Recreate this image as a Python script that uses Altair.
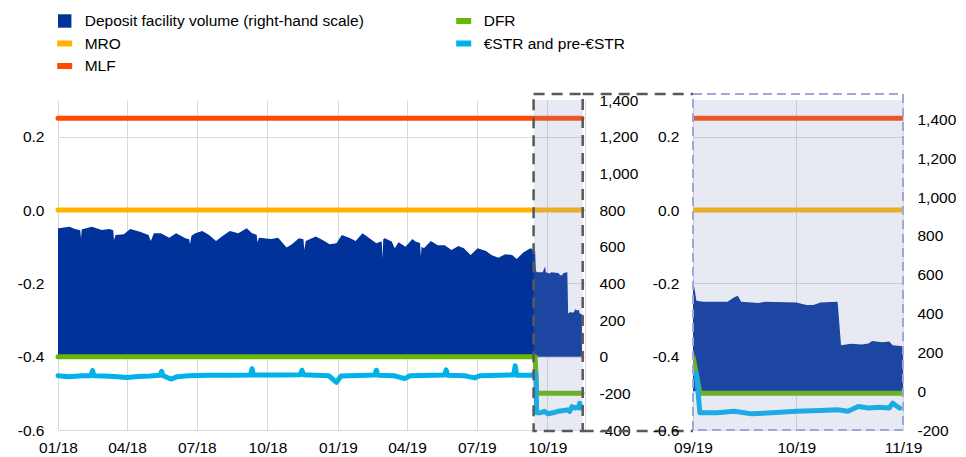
import altair as alt
import pandas as pd

FONT = "Liberation Sans"
GRID = "#d9d9d9"

# ---------------- data ----------------
vol_dates = [
    "2018-01-01", "2018-01-02", "2018-01-16", "2018-01-23", "2018-01-30", "2018-01-31", "2018-02-01",
    "2018-02-03", "2018-02-14", "2018-02-27", "2018-03-09", "2018-03-14", "2018-03-15", "2018-03-17",
    "2018-03-28", "2018-04-05", "2018-04-18", "2018-04-29", "2018-05-02", "2018-05-06", "2018-05-15",
    "2018-05-26", "2018-06-04", "2018-06-16", "2018-06-21", "2018-06-22", "2018-06-24", "2018-06-29",
    "2018-07-08", "2018-07-17", "2018-07-26", "2018-08-04", "2018-08-13", "2018-08-24", "2018-09-04",
    "2018-09-11", "2018-09-17", "2018-09-18", "2018-09-20", "2018-10-06", "2018-10-15", "2018-10-26",
    "2018-11-02", "2018-11-11", "2018-11-17", "2018-11-18", "2018-11-20", "2018-12-03", "2018-12-12",
    "2018-12-21", "2018-12-30", "2019-01-06", "2019-01-17", "2019-01-24", "2019-02-02", "2019-02-11",
    "2019-02-20", "2019-02-27", "2019-02-28", "2019-03-01", "2019-03-03", "2019-03-12", "2019-03-16",
    "2019-03-21", "2019-03-30", "2019-04-08", "2019-04-12", "2019-04-18", "2019-04-19", "2019-04-20",
    "2019-04-23", "2019-05-02", "2019-05-11", "2019-05-20", "2019-05-29", "2019-06-07", "2019-06-14",
    "2019-06-23", "2019-07-02", "2019-07-13", "2019-07-20", "2019-07-29", "2019-08-07", "2019-08-16",
    "2019-08-22", "2019-08-31", "2019-09-09", "2019-09-15", "2019-09-16", "2019-09-18", "2019-09-25",
    "2019-09-27", "2019-09-28", "2019-09-29", "2019-10-04", "2019-10-06", "2019-10-15", "2019-10-18",
    "2019-10-20", "2019-10-22", "2019-10-27", "2019-10-28", "2019-10-31", "2019-11-03", "2019-11-05",
    "2019-11-06", "2019-11-09", "2019-11-11", "2019-11-12", "2019-11-15",
]
vol_values = [
    700, 700, 709, 697, 690, 646, 695,
    697, 709, 691, 697, 690, 637, 664,
    668, 697, 682, 664, 631, 673, 673,
    649, 673, 646, 640, 613, 660, 673,
    686, 664, 631, 660, 686, 673, 700,
    673, 665, 624, 649, 642, 649, 595,
    613, 646, 640, 582, 631, 655, 637,
    613, 619, 664, 646, 631, 673, 646,
    619, 630, 537, 640, 646, 628, 591,
    624, 600, 642, 628, 620, 546, 600,
    591, 631, 608, 608, 582, 604, 591,
    555, 591, 577, 555, 540, 559, 555,
    533, 570, 591, 576, 466, 461, 461,
    484, 491, 461, 454, 461, 457, 444,
    444, 457, 461, 236, 244, 240, 245,
    259, 252, 256, 236, 232,
]

estr_dates = [
    "2018-01-01", "2018-01-15", "2018-02-01", "2018-02-13", "2018-02-15", "2018-02-17", "2018-03-01",
    "2018-03-15", "2018-04-01", "2018-04-15", "2018-05-01", "2018-05-14", "2018-05-16", "2018-05-18",
    "2018-05-28", "2018-06-05", "2018-06-20", "2018-07-15", "2018-08-15", "2018-09-09", "2018-09-11",
    "2018-09-13", "2018-10-15", "2018-11-13", "2018-11-15", "2018-11-17", "2018-12-20", "2018-12-30",
    "2019-01-05", "2019-02-18", "2019-02-20", "2019-02-22", "2019-03-15", "2019-03-29", "2019-04-05",
    "2019-05-20", "2019-05-22", "2019-05-24", "2019-06-15", "2019-06-28", "2019-07-05", "2019-08-18",
    "2019-08-20", "2019-08-22", "2019-09-10", "2019-09-16", "2019-09-17", "2019-09-22", "2019-09-27",
    "2019-10-02", "2019-10-08", "2019-10-15", "2019-10-22", "2019-10-27", "2019-10-30", "2019-11-02",
    "2019-11-05", "2019-11-08", "2019-11-11", "2019-11-12", "2019-11-14",
]
estr_values = [
    -0.452, -0.455, -0.452, -0.452, -0.438, -0.452, -0.453,
    -0.454, -0.457, -0.454, -0.453, -0.451, -0.440, -0.452,
    -0.461, -0.455, -0.452, -0.451, -0.451, -0.450, -0.433,
    -0.450, -0.450, -0.449, -0.437, -0.449, -0.452, -0.470,
    -0.453, -0.450, -0.437, -0.451, -0.452, -0.460, -0.452,
    -0.450, -0.436, -0.451, -0.452, -0.458, -0.452, -0.450,
    -0.425, -0.451, -0.451, -0.446, -0.553, -0.553, -0.549,
    -0.556, -0.553, -0.549, -0.547, -0.545, -0.549, -0.536,
    -0.540, -0.538, -0.540, -0.527, -0.540,
]

dfr_dates = ["2018-01-01", "2019-09-15", "2019-09-17", "2019-11-15"]
dfr_values = [-0.40, -0.40, -0.50, -0.50]
mro_dates = ["2018-01-01", "2019-11-15"]
mro_values = [0.00, 0.00]
mlf_dates = ["2018-01-01", "2019-11-15"]
mlf_values = [0.25, 0.25]

legend_labels = ["Deposit facility volume (right-hand scale)", "MRO", "MLF", "DFR", "€STR and pre-€STR"]
legend_colors = ["#003299", "#ffb400", "#ff4b00", "#65b800", "#00b1ea"]
legend_col = [0, 0, 0, 1, 1]
legend_row = [0, 1, 2, 0, 1]
legend_kind = ["square", "line", "line", "line", "line"]

rate_ticks = [-0.6, -0.4, -0.2, 0.0, 0.2]
left_vol_ticks = [-400, -200, 0, 200, 400, 600, 800, 1000, 1200, 1400]
right_vol_ticks = [-200, 0, 200, 400, 600, 800, 1000, 1200, 1400]

# ---------------- tables ----------------
vol_df = pd.DataFrame({"date": pd.to_datetime(vol_dates), "volume": vol_values})
series = [
    ("MLF", mlf_dates, mlf_values, "#ff4b00"),
    ("MRO", mro_dates, mro_values, "#ffb400"),
    ("DFR", dfr_dates, dfr_values, "#65b800"),
    ("ESTR", estr_dates, estr_values, "#00b1ea"),
]
leg_df = pd.DataFrame({"label": legend_labels, "color": legend_colors, "col": legend_col,
                       "row": legend_row, "kind": legend_kind})

def D(y, m, d):
    return alt.DateTime(year=y, month=m, date=d)

RATE_LABEL = "(datum.value < -1e-9 ? '-' : '') + format(abs(datum.value), '.1f')"
VOL_LABEL = "(datum.value < 0 ? '-' : '') + format(abs(datum.value), ',')"


def x_enc(field, dom, vals):
    return alt.X(f"{field}:T", scale=alt.Scale(domain=dom),
                 axis=alt.Axis(values=vals, format="%m/%y", title=None, grid=True, gridColor=GRID,
                               gridWidth=1, domain=False, ticks=False, labelPadding=10,
                               labelFlush=False, labelOverlap=False, labelBound=False))


def rate_y():
    return alt.Y("value:Q", scale=alt.Scale(domain=[-0.6, 0.3], nice=False, zero=False),
                 axis=alt.Axis(orient="left", values=rate_ticks, labelExpr=RATE_LABEL, title=None,
                               grid=True, gridColor=GRID, domain=False, ticks=False, labelPadding=14))


def vol_y(dom, vals, show_domain):
    return alt.Y("volume:Q", scale=alt.Scale(domain=dom, nice=False, zero=False),
                 axis=alt.Axis(orient="right", values=vals, labelExpr=VOL_LABEL, title=None,
                               grid=False, domain=show_domain, domainColor=GRID, ticks=False,
                               labelPadding=14))


def panel(dom, xvals, vdom, vvals, show_domain, clip, decor):
    area = alt.Chart(vol_df).mark_area(color="#003299", clip=clip).encode(
        x=x_enc("date", dom, xvals), y=vol_y(vdom, vvals, show_domain))
    lines = []
    for name, ds, vs, col in series:
        df = pd.DataFrame({"date": pd.to_datetime(ds), "value": vs})
        lines.append(alt.Chart(df).mark_line(color=col, strokeWidth=5, strokeCap="round",
                                             strokeJoin="round", clip=clip).encode(
            x=x_enc("date", dom, xvals), y=rate_y()))
    inner = alt.layer(*lines, *decor(dom, xvals))
    return alt.layer(area, inner).resolve_scale(y="independent")


W_L, W_R, H, GAP = 527, 210, 330, 108


def left_decor(dom, xvals):
    box_df = pd.DataFrame({"start": pd.to_datetime(["2019-09-13"]), "end": pd.to_datetime(["2019-11-16"])})
    shade = alt.Chart(box_df).mark_rect(fill="#8c96c3", opacity=0.2).encode(
        x=x_enc("start", dom, xvals), x2="end:T", y=alt.value(0), y2=alt.value(H))
    box = alt.Chart(box_df).mark_rect(fill="transparent", stroke="#595959", strokeWidth=2.5,
                                      strokeDash=[11, 7]).encode(
        x=x_enc("start", dom, xvals), x2="end:T", y=alt.value(-6), y2=alt.value(H + 1))
    top = alt.Chart(box_df).mark_rule(stroke="#595959", strokeWidth=2.5, strokeDash=[11, 7]).encode(
        x=x_enc("end", dom, xvals), x2=alt.value(W_L + GAP), y=alt.value(-6))
    bot = alt.Chart(box_df).mark_rule(stroke="#595959", strokeWidth=2.5, strokeDash=[11, 7]).encode(
        x=x_enc("end", dom, xvals), x2=alt.value(W_L + GAP), y=alt.value(H + 1))
    return [shade, box, top, bot]


def right_decor(dom, xvals):
    one = pd.DataFrame({"k": [0]})
    shade = alt.Chart(one).mark_rect(fill="#8c96c3", opacity=0.2).encode(
        x=alt.value(0), x2=alt.value(W_R), y=alt.value(0), y2=alt.value(H))
    box = alt.Chart(one).mark_rect(fill="transparent", stroke="#9fa8da", strokeWidth=2,
                                   strokeDash=[9, 5]).encode(
        x=alt.value(0), x2=alt.value(W_R), y=alt.value(-6), y2=alt.value(H))
    return [shade, box]


left = panel([D(2018, 1, 1), D(2019, 11, 19)],
             [D(2018, 1, 1), D(2018, 4, 1), D(2018, 7, 1), D(2018, 10, 1),
              D(2019, 1, 1), D(2019, 4, 1), D(2019, 7, 1), D(2019, 10, 1)],
             [-400, 1400], left_vol_ticks, True, False, left_decor).properties(width=W_L, height=H)

right = panel([D(2019, 9, 15), D(2019, 11, 15)],
              [D(2019, 9, 15), D(2019, 10, 15), D(2019, 11, 15)],
              [-200, 1500], right_vol_ticks, False, True, right_decor).properties(width=W_R, height=H)

# ---------------- legend ----------------
lx = alt.X("col:Q", scale=alt.Scale(domain=[0, 1], range=[6.7, 405.7]), axis=None)
ly = alt.Y("row:Q", scale=alt.Scale(domain=[0, 2], range=[13, 58]), axis=None)
lc = alt.Color("label:N", scale=alt.Scale(domain=legend_labels, range=legend_colors), legend=None)
lbase = alt.Chart(leg_df).encode(x=lx, y=ly)
leg_sq = lbase.transform_filter("datum.kind == 'square'").mark_square(size=180, opacity=1).encode(color=lc)
leg_ln = lbase.transform_filter("datum.kind == 'line'").mark_tick(
    orient="horizontal", thickness=6, size=15, opacity=1).encode(color=lc)
leg_tx = lbase.mark_text(align="left", baseline="middle", dx=20, fontSize=15.5, font=FONT,
                         color="#000000").encode(text="label:N")
legend = alt.layer(leg_sq, leg_ln, leg_tx).properties(width=W_L + GAP + W_R, height=70)

chart = alt.vconcat(
    legend,
    alt.hconcat(left, right, spacing=GAP, bounds="flush"),
    spacing=22, bounds="flush",
).properties(
    padding={"left": 9, "top": 0, "right": 0, "bottom": 0}
).configure_view(strokeWidth=0).configure_axis(
    labelFont=FONT, labelFontSize=15.5, labelColor="#000000"
)

chart.save("out.html", embed_options={"renderer": "svg", "actions": False})
